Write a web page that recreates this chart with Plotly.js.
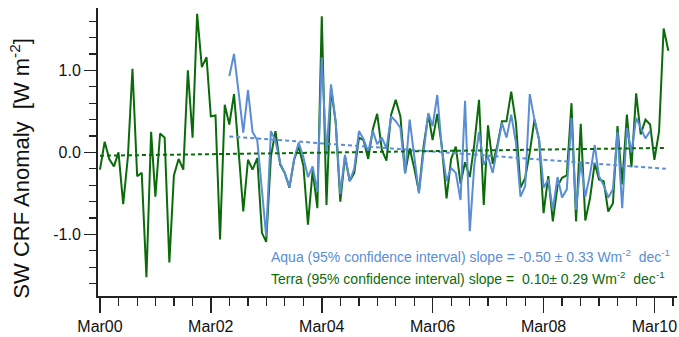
<!DOCTYPE html>
<html>
<head>
<meta charset="utf-8">
<script src="https://cdn.plot.ly/plotly-3.0.1.min.js"></script>
<style>
  html, body { margin: 0; padding: 0; background: #fff; }
  #chart { width: 679px; height: 337px; }
</style>
</head>
<body>
<div id="chart"></div>
<script>
// ---- Data (monthly SW CRF anomaly, W m-2) ----
var terraStart = [2000, 3];   // Mar 2000
var terraValues = [
  -0.21, 0.13, -0.08, -0.17, 0.00, -0.63, -0.05, 1.02, -0.29, -0.25,
  -1.52, 0.25, -0.54, 0.23, 0.18, -1.34, -0.28, -0.08, -0.21, 1.00,
  0.18, 1.69, 1.04, 1.16, 0.44, 0.45, -1.06, 0.58, 0.34, 0.71,
  0.00, -0.72, -0.09, -0.21, -0.07, -0.98, -1.09, -0.05, 0.26, -0.15,
  -0.25, -0.43, -0.09, 0.07, -0.16, -0.88, -0.22, -0.68, 1.66, -0.64,
  0.78, 0.36, -0.60, -0.05, -0.35, -0.25, 0.18, 0.15, -0.08, 0.29,
  0.47, 0.03, -0.10, 0.46, 0.64, 0.44, -0.25, 0.05, -0.20, -0.48,
  0.08, 0.46, 0.15, 0.47, 0.07, -0.56, -0.08, 0.07, -0.38, -0.12,
  -0.30, 0.10, 0.64, -0.64, 0.33, -0.14, 0.08, 0.38, 0.38, 0.74,
  0.36, -0.43, -0.31, 0.00, 0.40, 0.15, -0.74, -0.29, -0.84, -0.41,
  -0.31, -0.28, 0.60, -0.84, 0.35, -0.83, -0.56, -0.13, -0.33, -0.35,
  -0.72, -0.62, 0.32, -0.39, 0.46, -0.18, 0.72, 0.22, 0.40, 0.34,
  -0.09, 0.26, 1.51, 1.24
];

var aquaStart = [2002, 7];    // Jul 2002
var aquaValues = [
  0.93, 1.20, 0.72, 0.24, 0.76, 0.25, 0.15, -0.48, -1.02, 0.26,
  0.14, -0.13, -0.25, -0.42, -0.08, 0.12, -0.06, -0.30, -0.17, -0.48,
  1.16, -0.03, 0.83, 0.37, -0.51, -0.03, -0.35, -0.20, 0.26, 0.16,
  0.01, 0.26, 0.10, 0.18, 0.05, 0.44, 0.38, 0.30, -0.26, 0.40,
  -0.09, -0.50, 0.01, 0.48, 0.32, 0.70, 0.05, -0.35, -0.19, -0.25,
  -0.58, 0.63, -0.96, -0.15, 0.25, -0.15, -0.05, -0.25, 0.05, 0.36,
  0.18, 0.46, 0.12, -0.54, -0.41, 0.71, 0.40, 0.15, -0.43, -0.33,
  -0.70, -0.30, -0.55, -0.45, 0.42, -0.70, -0.11, -0.54, -0.27, 0.09,
  -0.29, -0.40, -0.55, -0.45, 0.25, -0.68, 0.30, 0.00, 0.42, 0.30,
  0.17, 0.26
];

// Linear trend end points
var terraTrendX = ['2000-03-01', '2010-05-15'];
var terraTrendY = [-0.04, 0.055];
var aquaTrendX  = ['2002-07-01', '2010-05-15'];
var aquaTrendY  = [0.195, -0.20];

var yTickVals = [-1, 0, 1];
var yTickText = ['-1.0', '0.0', '1.0'];

var aquaLabel  = 'Aqua (95% confidence interval) slope = -0.50 \u00b1 0.33 Wm<sup>-2</sup>\u00a0\u00a0dec<sup>-1</sup>';
var terraLabel = 'Terra (95% confidence interval) slope =\u00a0\u00a00.10\u00b1 0.29 Wm<sup>-2</sup>\u00a0\u00a0dec<sup>-1</sup>';
var yTitle = 'SW CRF Anomaly\u00a0\u00a0[W m<sup>-2</sup>]';

// ---- helpers ----
function monthSeq(start, n) {
  var out = [], y = start[0], m = start[1];
  for (var i = 0; i < n; i++) {
    out.push(y + '-' + (m < 10 ? '0' : '') + m + '-01');
    m++; if (m > 12) { m = 1; y++; }
  }
  return out;
}

var GREEN = '#0b6b0b';
var BLUE = '#5b8dd4';
var FONT = '"Liberation Sans", Arial, Helvetica, sans-serif';

var traces = [
  {x: monthSeq(terraStart, terraValues.length), y: terraValues, type: 'scatter', mode: 'lines',
   line: {color: GREEN, width: 2}, hoverinfo: 'none'},
  {x: monthSeq(aquaStart, aquaValues.length), y: aquaValues, type: 'scatter', mode: 'lines',
   line: {color: BLUE, width: 2}, hoverinfo: 'none'},
  {x: aquaTrendX, y: aquaTrendY, type: 'scatter', mode: 'lines',
   line: {color: BLUE, width: 2, dash: '4px,3px'}, hoverinfo: 'none'},
  {x: terraTrendX, y: terraTrendY, type: 'scatter', mode: 'lines',
   line: {color: GREEN, width: 2, dash: '4px,3px'}, hoverinfo: 'none'}
];

var layout = {
  width: 679, height: 337,
  margin: {l: 98, r: 2, t: 8, b: 41, pad: 0},
  paper_bgcolor: '#fff', plot_bgcolor: '#fff',
  showlegend: false,
  font: {family: FONT, size: 16, color: '#111'},
  xaxis: {
    type: 'date',
    range: ['2000-02-17', '2010-07-28'],
    tick0: '2000-03-01', dtick: 'M24', tickformat: '%b%y',
    ticks: 'outside', ticklen: 15, tickwidth: 1.5, tickcolor: '#222',
    showline: true, linecolor: '#222', linewidth: 2,
    showgrid: false, zeroline: false,
    tickfont: {family: FONT, size: 16, color: '#111'},
    minor: {tick0: '2000-03-01', dtick: 'M4', ticks: 'outside', ticklen: 8, tickwidth: 1.2, tickcolor: '#222', showgrid: false}
  },
  yaxis: {
    range: [-1.75, 1.76],
    tickmode: 'array', tickvals: yTickVals, ticktext: yTickText,
    ticks: 'outside', ticklen: 12, tickwidth: 1.5, tickcolor: '#222',
    showline: true, linecolor: '#222', linewidth: 2,
    showgrid: false, zeroline: false,
    tickfont: {family: FONT, size: 16, color: '#111'},
    minor: {tickmode: 'linear', tick0: 0, dtick: 0.2, ticks: 'outside', ticklen: 7, tickwidth: 1.2, tickcolor: '#222', showgrid: false}
  },
  annotations: [
    {xref: 'paper', yref: 'paper', x: -0.135, y: 0.445, xanchor: 'center', yanchor: 'middle',
     text: yTitle, textangle: -90, showarrow: false, font: {family: FONT, size: 22, color: '#111'}},
    {xref: 'paper', yref: 'paper', x: (269 - 98) / 579, y: (296 - 256) / 288, xanchor: 'left', yanchor: 'middle',
     text: aquaLabel, showarrow: false, font: {family: FONT, size: 14, color: BLUE}},
    {xref: 'paper', yref: 'paper', x: (269 - 98) / 579, y: (296 - 278) / 288, xanchor: 'left', yanchor: 'middle',
     text: terraLabel, showarrow: false, font: {family: FONT, size: 14, color: GREEN}}
  ]
};

Plotly.newPlot('chart', traces, layout, {staticPlot: true, displayModeBar: false});
</script>
</body>
</html>
